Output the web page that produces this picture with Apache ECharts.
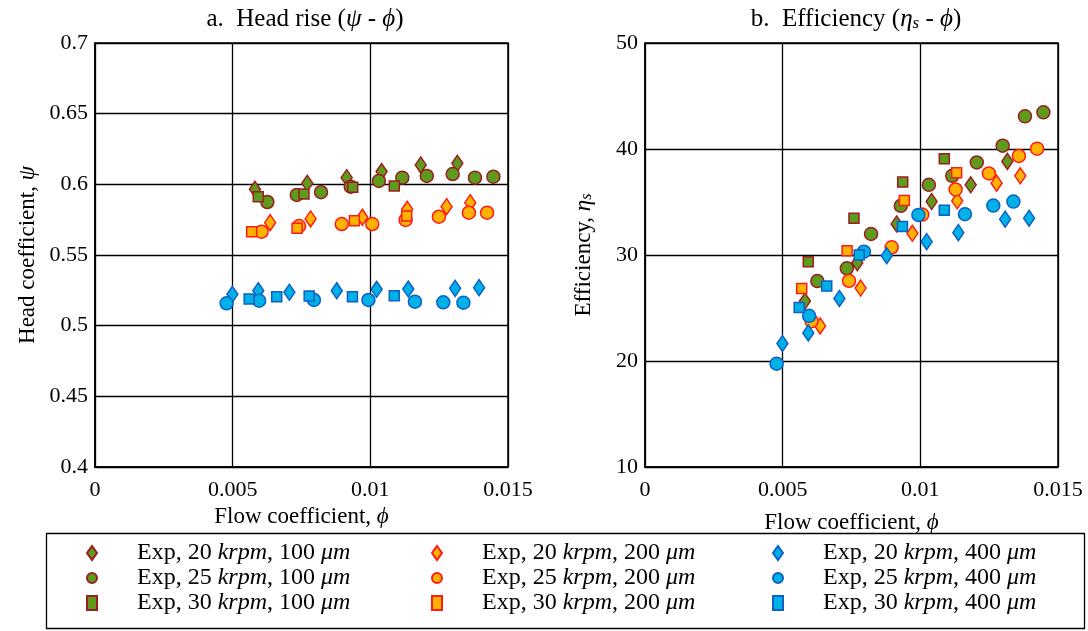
<!DOCTYPE html>
<html><head><meta charset="utf-8">
<script src="https://cdn.jsdelivr.net/npm/echarts@6/dist/echarts.min.js"></script>
<style>html,body{margin:0;padding:0;background:#fff}#c{width:1088px;height:631px}</style>
</head><body><div id="c"></div>
<script>
// ---- data ----
const phi_d100 = [0.00581,0.00771,0.00914,0.01041,0.01183,0.01316];
const psi_d100 = [0.5965,0.6007,0.6047,0.609,0.6137,0.6149];
const eta_d100 = [25.65,29.27,32.93,35.04,36.62,38.83];

const phi_c100 = [0.00626,0.00733,0.00821,0.00929,0.01031,0.01116,0.01205,0.01299,0.0138,0.01447];
const psi_c100 = [0.5875,0.5925,0.5944,0.5983,0.6024,0.6047,0.6059,0.6073,0.6047,0.6054];
const eta_c100 = [27.54,28.74,31.99,34.64,36.62,37.47,38.73,40.31,43.08,43.46];

const phi_s100 = [0.00593,0.00759,0.00936,0.01087];
const psi_s100 = [0.5913,0.5932,0.5979,0.5988];
const eta_s100 = [29.37,33.47,36.88,39.08];

const phi_d200 = [0.00636,0.00783,0.00971,0.01134,0.01277,0.01363];
const psi_d200 = [0.5729,0.5755,0.5767,0.5823,0.5842,0.587];
const eta_d200 = [23.31,26.88,32.05,35.11,36.78,37.47];

const phi_c200 = [0.00605,0.00741,0.00896,0.01007,0.01128,0.01249,0.01358,0.01424];
const psi_c200 = [0.5665,0.5705,0.5719,0.5719,0.5748,0.5771,0.5799,0.5799];
const eta_c200 = [23.76,27.57,30.73,33.81,36.18,37.69,39.34,40.03];

const phi_s200 = [0.00569,0.00734,0.00942,0.01132];
const psi_s200 = [0.5665,0.5689,0.5743,0.5776];
const eta_s200 = [26.85,30.41,35.14,37.76];

const phi_d400 = [0.00499,0.00593,0.00706,0.00878,0.01023,0.01138,0.01308,0.01395];
const psi_d400 = [0.5222,0.5247,0.5236,0.5247,0.5257,0.5259,0.5264,0.5269];
const eta_d400 = [21.65,22.65,25.9,29.93,31.26,32.11,33.38,33.47];

const phi_c400 = [0.00478,0.00596,0.00795,0.00993,0.01162,0.01265,0.01338];
const psi_c400 = [0.5158,0.5177,0.5182,0.5182,0.517,0.5165,0.5163];
const eta_c400 = [19.75,24.26,30.31,33.78,33.85,34.66,35.04];

const phi_s400 = [0.0056,0.0066,0.00778,0.00935,0.01087];
const psi_s400 = [0.5189,0.5205,0.521,0.5205,0.5212];
const eta_s400 = [25.05,27.07,30.0,32.68,34.23];

const speeds = ['20','25','30'];
const gaps = ['100','200','400'];
const xTicks = ['0','0.005','0.01','0.015'];
const psiTicks = ['0.4','0.45','0.5','0.55','0.6','0.65','0.7'];
const etaTicks = ['10','20','30','40','50'];

// ---- styles ----
const FONT = 'Liberation Serif';
const palette = {
  '100': {fill:'#5e9a1c', border:'#9a1d22'},
  '200': {fill:'#ffb300', border:'#ff1a1a'},
  '400': {fill:'#00b1e6', border:'#0f5fc4'}
};
const shapes = [
  {symbol:'diamond', size:[11,16]},
  {symbol:'circle', size:13},
  {symbol:'rect', size:10}
];
const dataSets = {
  '100':[[phi_d100,psi_d100,eta_d100],[phi_c100,psi_c100,eta_c100],[phi_s100,psi_s100,eta_s100]],
  '200':[[phi_d200,psi_d200,eta_d200],[phi_c200,psi_c200,eta_c200],[phi_s200,psi_s200,eta_s200]],
  '400':[[phi_d400,psi_d400,eta_d400],[phi_c400,psi_c400,eta_c400],[phi_s400,psi_s400,eta_s400]]
};
const nameOf = (s,g) => 'Exp, ' + s + ' krpm, ' + g + ' μm';

const series = [];
const legendCols = [];
gaps.forEach(g => {
  const col = [];
  speeds.forEach((s,i) => {
    const [ph, ps, et] = dataSets[g][i];
    const nm = nameOf(s,g);
    col.push(nm);
    const base = {
      name: nm, type:'scatter', symbol: shapes[i].symbol, symbolSize: shapes[i].size,
      itemStyle:{color: palette[g].fill, borderColor: palette[g].border, borderWidth:1.5, opacity:1},
      emphasis:{disabled:true}, animation:false
    };
    series.push(Object.assign({}, base, {xAxisIndex:0, yAxisIndex:0, data: ph.map((x,k)=>[x, ps[k]])}));
    series.push(Object.assign({}, base, {xAxisIndex:1, yAxisIndex:1, data: ph.map((x,k)=>[x, et[k]])}));
  });
  legendCols.push(col);
});

const mkRich = (fs) => ({
  n:{fontFamily:FONT, fontSize:fs, fontWeight:'normal', color:'#000'},
  i:{fontFamily:FONT, fontSize:fs, fontWeight:'normal', fontStyle:'italic', color:'#000'},
  sub:{fontFamily:FONT, fontSize:Math.round(fs*0.68), fontWeight:'normal', fontStyle:'italic', color:'#000', verticalAlign:'bottom', lineHeight:Math.round(fs*0.62)}
});
const titleRich = mkRich(25);
const nameRich = mkRich(23);
const legRich = {
  n:{fontFamily:FONT, fontSize:24, lineHeight:20, color:'#000'},
  i:{fontFamily:FONT, fontSize:24, lineHeight:20, fontStyle:'italic', color:'#000'}
};
const legendFmt = name => {
  const m = name.match(/^Exp, (\d+) krpm, (\d+) μm$/);
  return '{n|Exp, ' + m[1] + ' }{i|krpm}{n|, ' + m[2] + ' }{i|μm}';
};

const axisCommon = {
  axisLine:{show:true, onZero:false, lineStyle:{color:'#000', width:1.5}},
  axisTick:{show:false},
  splitLine:{show:true, lineStyle:{color:'#000', width:1.3}},
  axisLabel:{color:'#000', fontFamily:FONT, fontSize:22}
};
const fmtFromTicks = (ticks) => v => {
  const hit = ticks.find(t => Math.abs(parseFloat(t) - v) < 1e-9);
  return hit !== undefined ? hit : '';
};

const xAxisDef = (gi, nameGap) => Object.assign({}, axisCommon, {
  type:'value', gridIndex:gi, min:0, max:0.015, interval:0.005,
  axisLabel:Object.assign({}, axisCommon.axisLabel, {margin:12, formatter: fmtFromTicks(xTicks)}),
  name:'{n|Flow coefficient, }{i|ϕ}', nameLocation:'middle', nameGap:nameGap,
  nameTextStyle:{rich:nameRich}
});

const legendDefs = legendCols.map((col, ci) => ({
  data: col, orient:'vertical', left: [86, 431, 772][ci], top: 541, padding:0, height:88,
  itemWidth: 10, itemHeight: 14, itemGap: 1,
  formatter: legendFmt,
  textStyle:{rich:legRich, lineHeight:20, padding:[0,0,0,35]},
  selectedMode:false, inactiveColor:'#000'
}));

const option = {
  backgroundColor:'#fff',
  animation:false,
  title:[
    {text:'{n|a.  Head rise (}{i|ψ}{n| - }{i|ϕ}{n|)}', left:300, top:2, textAlign:'center',
     textStyle:{rich:titleRich}},
    {text:'{n|b.  Efficiency (}{i|η}{sub|s}{n| - }{i|ϕ}{n|)}', left:851, top:2, textAlign:'center',
     textStyle:{rich:titleRich}}
  ],
  grid:[
    {left:95, right:580, top:43, bottom:164, show:true, borderColor:'#000', borderWidth:1.5, backgroundColor:'transparent'},
    {left:645, right:30, top:43, bottom:164, show:true, borderColor:'#000', borderWidth:1.5, backgroundColor:'transparent'}
  ],
  xAxis:[ xAxisDef(0, 38), xAxisDef(1, 44) ],
  yAxis:[
    Object.assign({}, axisCommon, {
      type:'value', gridIndex:0, min:0.4, max:0.7, interval:0.05,
      axisLabel:Object.assign({}, axisCommon.axisLabel, {margin:7, formatter: fmtFromTicks(psiTicks)}),
      name:'{n|Head coefficient, }{i|ψ}', nameLocation:'middle', nameGap:56, nameRotate:90,
      nameTextStyle:{rich:nameRich}
    }),
    Object.assign({}, axisCommon, {
      type:'value', gridIndex:1, min:10, max:50, interval:10,
      axisLabel:Object.assign({}, axisCommon.axisLabel, {margin:7, formatter: fmtFromTicks(etaTicks)}),
      name:'{n|Efficiency, }{i|η}{sub|s}', nameLocation:'middle', nameGap:50, nameRotate:90,
      nameTextStyle:{rich:nameRich}
    })
  ],
  legend: legendDefs,
  graphic:[{type:'rect', shape:{x:46.5, y:533.5, width:1038, height:95},
            style:{fill:'none', stroke:'#000', lineWidth:1.3}, silent:true, z:-1}],
  series: series
};
const chart = echarts.init(document.getElementById('c'), null, {renderer:'canvas'});
chart.setOption(option);
</script>
</body></html>
